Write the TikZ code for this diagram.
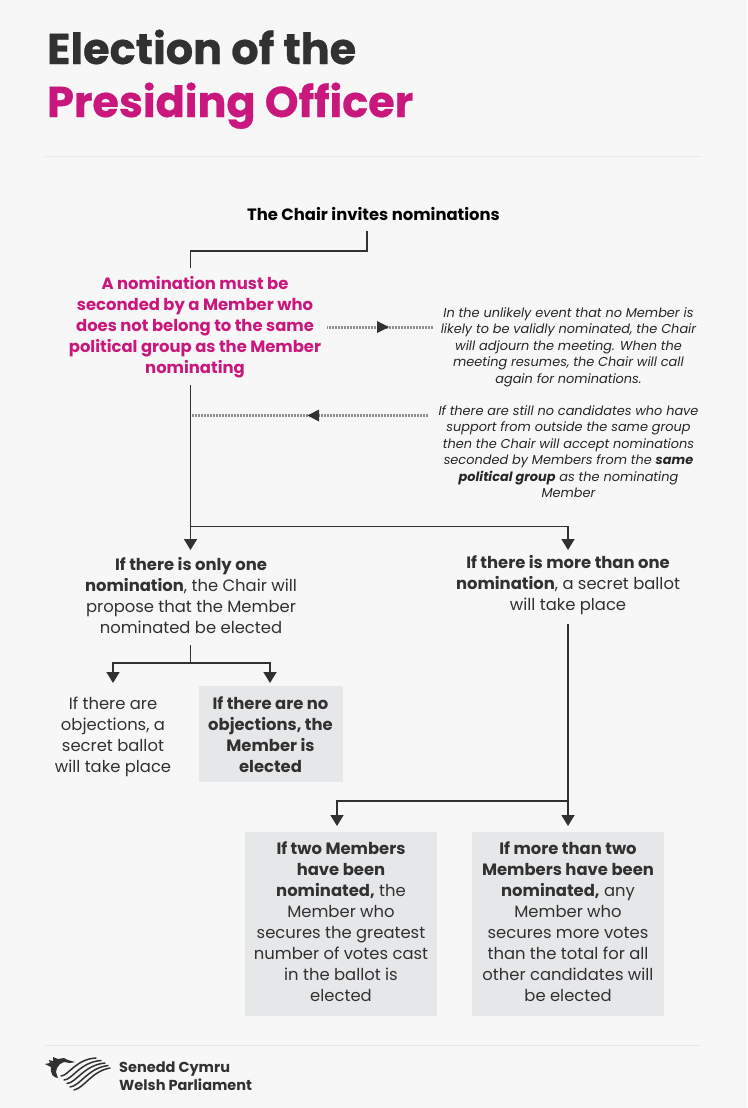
\documentclass[tikz,border=0pt]{standalone}
\usepackage{fontspec}
\setmainfont{Poppins}
\newfontfamily\headfont[BoldFeatures={FakeBold=0.6}]{Poppins}
\usepackage{xcolor}
\usepackage{tikz}
\usetikzlibrary{arrows.meta,calc,positioning}
\definecolor{SeneddDark}{HTML}{323132}
\definecolor{SeneddPink}{HTML}{C9177E}
\definecolor{SeneddPage}{HTML}{F7F7F7}
\definecolor{SeneddBox}{HTML}{E6E7E8}
\definecolor{SeneddRule}{HTML}{E6E6E6}
\definecolor{SeneddHatch}{HTML}{909092}
\tikzset{
  flowtext/.style={align=center,text=SeneddDark,font=\fontsize{16.4}{21}\selectfont,inner sep=0pt,anchor=north},
  sidetext/.style={align=center,text=black!85,font=\fontsize{12.9}{16.4}\selectfont\itshape,inner sep=0pt,anchor=north},
  headtext/.style={anchor=base west,inner sep=0pt,font=\fontsize{43}{43}\headfont\bfseries},
  foottext/.style={anchor=base west,inner sep=0pt,text=SeneddDark,font=\fontsize{14.5}{14.5}\selectfont\bfseries},
  boxfill/.style={fill=SeneddBox},
  flowline/.style={draw=SeneddDark,line width=1.6pt},
  flowarrow/.style={flowline,-{Triangle[length=11pt,width=13pt]}},
  hatchline/.style={draw=SeneddHatch,line width=3pt,dash pattern=on 0.75pt off 0.75pt},
  hatchtip/.style={fill=SeneddDark,draw=none},
  wave/.style={draw=SeneddDark,line width=1.5pt,line cap=round},
}
\begin{document}
\begin{tikzpicture}[x=1pt,y=-1pt]
  \useasboundingbox[fill=SeneddPage] (0,0) rectangle (747,1108);
  % heading
  \node[headtext,text=SeneddDark] (title) at (47,64) {Election of the};
  \node[headtext,text=SeneddPink] (subtitle) at (47,117) {Presiding Officer};
  \draw[SeneddRule,line width=1pt] (45,156) -- (701,156);
  % shaded boxes
  \fill[boxfill] (198.5,686) rectangle (342.5,782);
  \fill[boxfill] (245,832) rectangle (437,1016);
  \fill[boxfill] (472,832) rectangle (664,1016);
  % flow text
  \node[flowtext,text=black,font=\fontsize{16.4}{21}\selectfont\bfseries,anchor=center] (chair) at (373.5,214) {The Chair invites nominations};
  \node[flowtext,text=SeneddPink,font=\fontsize{16.4}{21}\selectfont\bfseries] (seconded) at (195,276) {A nomination must be\\seconded by a Member who\\does not belong to the same\\political group as the Member\\nominating};
  \node[sidetext] (adjourn) at (568.5,307.5) {In the unlikely event that no Member is\\likely to be validly nominated, the Chair\\will adjourn the meeting. When the\\meeting resumes, the Chair will call\\again for nominations.};
  \node[sidetext] (stillnone) at (568.5,405.5) {If there are still no candidates who have\\support from outside the same group\\then the Chair will accept nominations\\seconded by Members from the \textbf{same}\\\textbf{political group} as the nominating\\Member};
  \node[flowtext] (onlyone) at (191,557) {\textbf{If there is only one}\\\textbf{nomination}, the Chair will\\propose that the Member\\nominated be elected};
  \node[flowtext] (morethan) at (568,555) {\textbf{If there is more than one}\\\textbf{nomination}, a secret ballot\\will take place};
  \node[flowtext] (objections) at (113,696.5) {If there are\\objections, a\\secret ballot\\will take place};
  \node[flowtext] (noobjections) at (270.5,696) {\textbf{If there are no}\\\textbf{objections, the}\\\textbf{Member is}\\\textbf{elected}};
  \node[flowtext] (twomembers) at (341,841) {\textbf{If two Members}\\\textbf{have been}\\\textbf{nominated,} the\\Member who\\secures the greatest\\number of votes cast\\in the ballot is\\elected};
  \node[flowtext] (moremembers) at (568,841) {\textbf{If more than two}\\\textbf{Members have been}\\\textbf{nominated,} any\\Member who\\secures more votes\\than the total for all\\other candidates will\\be elected};
  % connectors
  \coordinate (chairfoot) at (367,231);
  \coordinate (secondedtop) at (190.5,268);
  \coordinate (secondedfoot) at (190.5,385);
  \coordinate (branchone) at (190.5,550);
  \coordinate (branchmore) at (568,550);
  \coordinate (onlyfoot) at (190.5,645);
  \coordinate (objtop) at (113,683);
  \coordinate (noobjtop) at (270,683);
  \coordinate (morefoot) at (568,624);
  \coordinate (twotop) at (337,826);
  \coordinate (moretop) at (568,826);
  \draw[flowline] (chairfoot) |- (secondedtop |- 0,251) -- (secondedtop);
  \draw[flowarrow] (secondedfoot) -- (branchone);
  \draw[flowarrow] (secondedfoot |- 0,526.5) -| (branchmore);
  \draw[flowline] (onlyfoot) -- (190.5,663);
  \draw[flowarrow] (190.5,663) -| (objtop);
  \draw[flowarrow] (190.5,663) -| (noobjtop);
  \draw[flowarrow] (morefoot) -- (moretop);
  \draw[flowarrow] (moretop |- 0,801) -| (twotop);
  % side arrows
  \coordinate (adjournout) at (327,327);
  \coordinate (adjournin) at (433,327);
  \coordinate (stillout) at (428,415.5);
  \coordinate (stillin) at (192,415.5);
  \draw[hatchline] (adjournout) -- (adjournin);
  \draw[hatchline] (stillout) -- (stillin);
  \fill[hatchtip] (377,321) -- (389,327) -- (377,333) -- cycle;
  \fill[hatchtip] (319,409.5) -- (307.5,415.5) -- (319,421.5) -- cycle;
  % footer
  \draw[SeneddRule,line width=1pt] (45,1045) -- (701,1045);
  \node[foottext] (senedd) at (119,1072) {Senedd Cymru};
  \node[foottext] (welsh) at (119,1090) {Welsh Parliament};
  % logo
  \fill[SeneddDark] (45,1064) -- (50,1063) -- (49,1060) -- (53,1061) -- (53,1057) -- (58,1059) -- (64,1058) -- (68,1060) -- (75,1062) -- (70,1063) -- (64,1062) -- (60,1064) -- (57,1068) -- (56,1072) -- (58,1078) .. controls (53,1078) and (50,1073) .. (51,1067) -- cycle;
  \draw[wave] (61,1076) .. controls (68,1076) and (76,1059) .. (96,1058);
  \draw[wave] (64,1080) .. controls (72,1080) and (80,1062) .. (101,1060.5);
  \draw[wave] (67,1083.5) .. controls (76,1083) and (84,1065) .. (105,1063);
  \draw[wave] (70,1087) .. controls (80,1086) and (88,1068) .. (108,1065.5);
  \draw[wave] (74,1090) .. controls (84,1088) and (92,1071) .. (110,1068);
\end{tikzpicture}
\end{document}
